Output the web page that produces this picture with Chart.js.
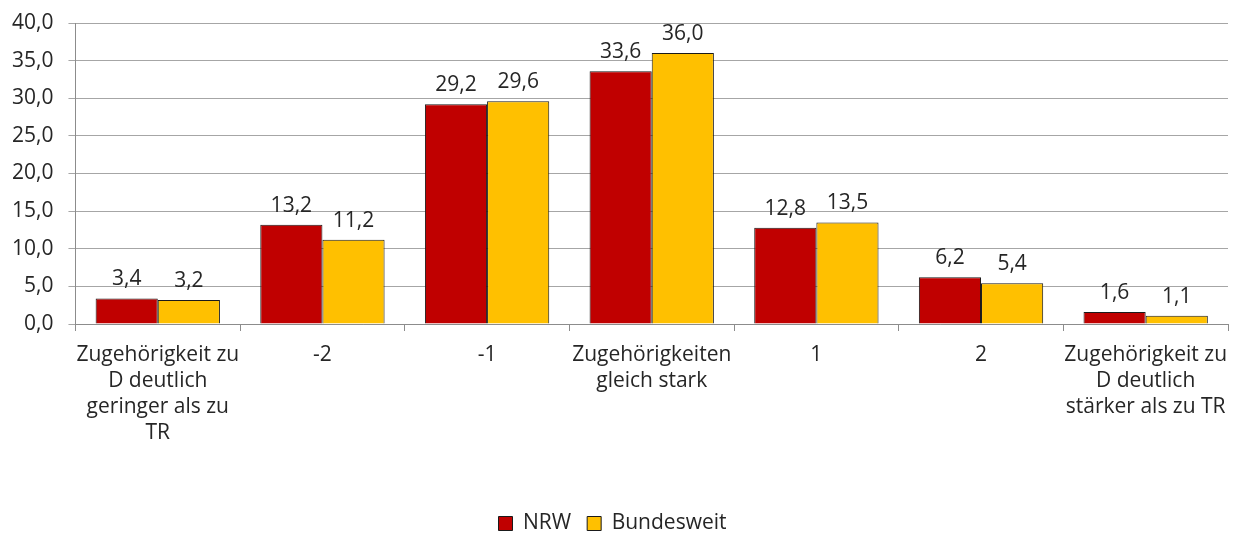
<!DOCTYPE html>
<html>
<head>
<meta charset="utf-8">
<script src="https://cdn.jsdelivr.net/npm/chart.js@4/dist/chart.umd.min.js"></script>
<style>
  html, body { margin: 0; padding: 0; background: #fff; }
  #wrap { width: 1234px; height: 534px; }
</style>
</head>
<body>
<div id="wrap"><canvas id="chart" width="1234" height="534"></canvas></div>
<script>
const categories = [
    ['Zugehörigkeit zu', 'D deutlich', 'geringer als zu', 'TR'],
    '-2',
    '-1',
    ['Zugehörigkeiten', 'gleich stark'],
    '1',
    '2',
    ['Zugehörigkeit zu', 'D deutlich', 'stärker als zu TR']
];
const nrwValues = [3.4, 13.2, 29.2, 33.6, 12.8, 6.2, 1.6];
const bundValues = [3.2, 11.2, 29.6, 36.0, 13.5, 5.4, 1.1];
const seriesNames = ['NRW', 'Bundesweit'];

const fmt = v => v.toFixed(1).replace('.', ',');
const fontFamily = '"Open Sans", "DejaVu Sans", sans-serif';
const textColor = '#262626';

// Werte über den Balken
const valueLabels = {
    id: 'valueLabels',
    afterDatasetsDraw(chart) {
        const ctx = chart.ctx;
        ctx.save();
        ctx.font = '21px ' + fontFamily;
        ctx.fillStyle = textColor;
        ctx.textAlign = 'center';
        ctx.textBaseline = 'alphabetic';
        chart.data.datasets.forEach((ds, i) => {
            chart.getDatasetMeta(i).data.forEach((bar, j) => {
                ctx.fillText(fmt(ds.data[j]), bar.x, bar.y - 13);
            });
        });
        ctx.restore();
    }
};

new Chart(document.getElementById('chart'), {
    type: 'bar',
    data: {
        labels: categories,
        datasets: [
            { label: seriesNames[0], data: nrwValues, backgroundColor: '#C00000', borderColor: '#1a1a1a', borderWidth: 1 },
            { label: seriesNames[1], data: bundValues, backgroundColor: '#FFC000', borderColor: '#1a1a1a', borderWidth: 1 }
        ]
    },
    options: {
        responsive: false,
        animation: false,
        devicePixelRatio: 1,
        layout: { padding: { top: 23, right: 6, left: -3, bottom: -10 } },
        datasets: { bar: { categoryPercentage: 0.755, barPercentage: 1 } },
        plugins: {
            legend: {
                position: 'bottom',
                labels: {
                    font: { family: fontFamily, size: 21 },
                    color: textColor,
                    boxWidth: 14,
                    boxHeight: 14,
                    padding: 16
                }
            },
            tooltip: { enabled: false }
        },
        scales: {
            x: {
                grid: { display: true, drawOnChartArea: false, drawTicks: true, tickLength: 7, color: '#8c8c8c' },
                border: { color: '#8c8c8c' },
                ticks: { font: { family: fontFamily, size: 21, lineHeight: 1.24 }, color: textColor, maxRotation: 0, autoSkip: false, padding: 11 },
                afterFit(scale) {
                    scale.height = 173;
                    scale.paddingLeft = 0;
                    scale.paddingRight = 0;
                }
            },
            y: {
                min: 0,
                max: 40,
                ticks: {
                    stepSize: 5,
                    font: { family: fontFamily, size: 21 },
                    color: textColor,
                    padding: 15,
                    callback: v => fmt(v)
                },
                grid: { color: '#a6a6a6', tickLength: 7 },
                border: { color: '#8c8c8c' },
                afterFit(scale) {
                    scale.paddingTop = 0;
                    scale.paddingBottom = 0;
                }
            }
        }
    },
    plugins: [valueLabels]
});
</script>
</body>
</html>
